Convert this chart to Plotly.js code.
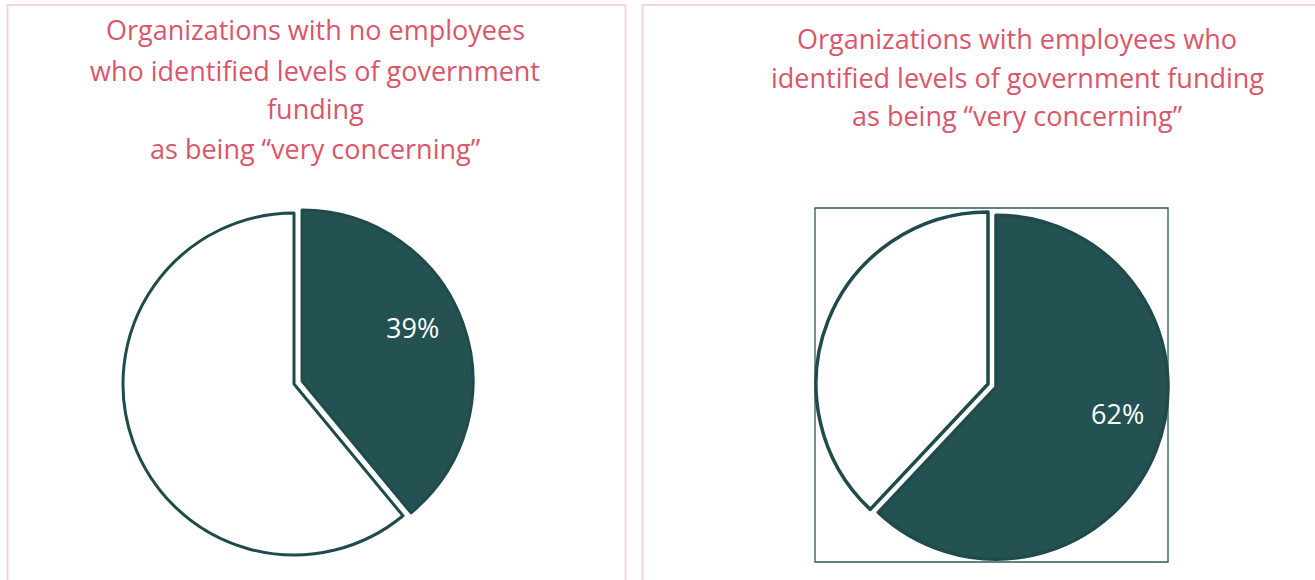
<!DOCTYPE html>
<html>
<head>
<meta charset="utf-8">
<script src="https://cdn.plot.ly/plotly-3.0.1.min.js"></script>
<style>html,body{margin:0;padding:0;background:#fff;}#chart{width:1315px;height:580px;}</style>
</head>
<body>
<div id="chart"></div>
<script>
// ---- data ----
const leftLabels = ["Very concerning", "Other"];
const leftValues = [39, 61];
const rightLabels = ["Very concerning", "Other"];
const rightValues = [62, 38];
const leftTitleLines = [
  "Organizations with no employees",
  "who identified levels of government",
  "funding",
  "as being \u201cvery concerning\u201d"
];
const rightTitleLines = [
  "Organizations with employees who",
  "identified levels of government funding",
  "as being \u201cvery concerning\u201d"
];

// ---- style ----
const W = 1315, H = 580;
const DARK = "#245152";
const LINE = "#1f4b4c";
const TITLE = "#d9566b";
const PINK = "#f5d4db";
const FONT = "'Open Sans', Lato, sans-serif";
const px = x => x / W;
const py = y => 1 - y / H;

function pieDomain(cx, cy, r, pull) {
  const h = r * (1 + pull);
  return { x: [px(cx - h), px(cx + h)], y: [py(cy + h), py(cy - h)] };
}

const PULL = 0.05;
const LABEL_ANGLE_FRAC = 0.46; // position of label within the slice's sweep
const LABEL_RADIUS = 0.72;
const pies = [
  { labels: leftLabels, values: leftValues, cx: 294, cy: 384, r: 171, lw: 3 },
  { labels: rightLabels, values: rightValues, cx: 988, cy: 384, r: 172, lw: 3.5 }
];

const traces = pies.map(p => ({
  type: "pie", labels: p.labels, values: p.values,
  sort: false, direction: "clockwise", rotation: 0,
  pull: [PULL, 0],
  marker: { colors: [DARK, "#ffffff"], line: { color: LINE, width: p.lw } },
  textinfo: "none",
  hoverinfo: "skip", showlegend: false,
  domain: pieDomain(p.cx, p.cy, p.r, PULL)
}));

const annotations = [];
// percentage labels for the highlighted slice, placed inside it (angle derived from data)
pies.forEach(p => {
  const total = p.values.reduce((a, b) => a + b, 0);
  const frac = p.values[0] / total;
  const ang = frac * 2 * Math.PI * LABEL_ANGLE_FRAC; // clockwise from 12 o'clock
  const dist = p.r * PULL + p.r * LABEL_RADIUS;
  const x = p.cx + dist * Math.sin(ang);
  const y = p.cy - dist * Math.cos(ang);
  annotations.push({
    text: Math.round(frac * 100) + "%", xref: "paper", yref: "paper",
    x: px(x), y: py(y), xanchor: "center", yanchor: "middle", showarrow: false,
    font: { family: FONT, size: 27, color: "#ffffff" }
  });
});

const leftYs = [30, 70, 108, 148];
leftTitleLines.forEach((t, i) => annotations.push({
  text: t, xref: "paper", yref: "paper", x: px(315), y: py(leftYs[i]),
  xanchor: "center", yanchor: "middle", showarrow: false,
  font: { family: FONT, size: 27, color: TITLE }
}));
const rightYs = [38, 78, 116];
rightTitleLines.forEach((t, i) => annotations.push({
  text: t, xref: "paper", yref: "paper", x: px(1017), y: py(rightYs[i]),
  xanchor: "center", yanchor: "middle", showarrow: false,
  font: { family: FONT, size: 27, color: TITLE }
}));

const shapes = [
  { type: "rect", xref: "paper", yref: "paper", x0: px(7.5), x1: px(625.5), y0: py(600), y1: py(5),
    line: { color: PINK, width: 2 }, fillcolor: "rgba(0,0,0,0)" },
  { type: "rect", xref: "paper", yref: "paper", x0: px(642.5), x1: px(1400), y0: py(600), y1: py(5),
    line: { color: PINK, width: 2 }, fillcolor: "rgba(0,0,0,0)" },
  { type: "rect", xref: "paper", yref: "paper", x0: px(815), x1: px(1168), y0: py(562), y1: py(208),
    line: { color: "#2d5a5a", width: 1.3 }, fillcolor: "rgba(0,0,0,0)", layer: "below" }
];

const layout = {
  width: W, height: H,
  margin: { l: 0, r: 0, t: 0, b: 0 },
  paper_bgcolor: "#ffffff",
  font: { family: FONT },
  showlegend: false,
  annotations: annotations,
  shapes: shapes
};

Plotly.newPlot("chart", traces, layout, { displayModeBar: false, staticPlot: true });
</script>
</body>
</html>
